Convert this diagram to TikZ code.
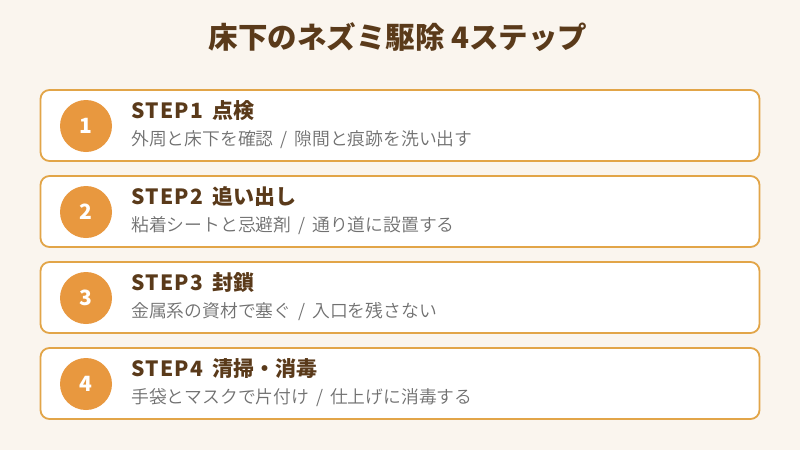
\documentclass[tikz,border=0pt]{standalone}
\usepackage{fontspec}
\setmainfont{Noto Sans CJK JP}
\newfontfamily\lightfont{Noto Sans CJK JP DemiLight}
\usetikzlibrary{positioning}

\definecolor{bgcream}{HTML}{FAF5EE}
\definecolor{boxline}{HTML}{E2A548}
\definecolor{badge}{HTML}{E8983F}
\definecolor{titlebrown}{HTML}{5A3A1A}
\definecolor{subgray}{HTML}{707070}

% wider tracking for the latin part of the step headings
\newcommand{\steplabel}[2]{{\addfontfeatures{LetterSpace=6}#1}\hspace{0.45em}#2}

\begin{document}
\begin{tikzpicture}[x=1pt, y=-1pt,
    stepbox/.style={draw=boxline, line width=1.8pt, fill=white, rounded corners=9pt,
        minimum width=719pt, minimum height=71pt, inner sep=0pt},
    badgecircle/.style={circle, fill=badge, minimum size=52pt, inner sep=0pt,
        text=white, font=\fontsize{21}{21}\selectfont\bfseries},
    stephead/.style={anchor=west, inner sep=0pt, text=titlebrown,
        font=\fontsize{21}{21}\selectfont\bfseries},
    stepnote/.style={anchor=west, inner sep=0pt, text=subgray,
        font=\lightfont\fontsize{17.8}{18}\selectfont}]

    \fill[bgcream] (0,0) rectangle (800,450);
    \useasboundingbox (0,0) rectangle (800,450);

    \node[text=titlebrown, font=\fontsize{29.5}{30}\selectfont\bfseries] (title) at (398,37) {床下のネズミ駆除 4ステップ};

    \node[stepbox] (box1) at (400,125.5) {};
    \node[badgecircle] (num1) at (86,126) {1};
    \node[stephead] (head1) at (131,110.5) {\steplabel{STEP1}{点検}};
    \node[stepnote] (note1) at (131,140) {外周と床下を確認 \,/\, 隙間と痕跡を洗い出す};

    \node[stepbox] (box2) at (400,211.5) {};
    \node[badgecircle] (num2) at (86,212) {2};
    \node[stephead] (head2) at (131,196.5) {\steplabel{STEP2}{追い出し}};
    \node[stepnote] (note2) at (131,226) {粘着シートと忌避剤 \,/\, 通り道に設置する};

    \node[stepbox] (box3) at (400,297.5) {};
    \node[badgecircle] (num3) at (86,298) {3};
    \node[stephead] (head3) at (131,282.5) {\steplabel{STEP3}{封鎖}};
    \node[stepnote] (note3) at (131,312) {金属系の資材で塞ぐ \,/\, 入口を残さない};

    \node[stepbox] (box4) at (400,383.5) {};
    \node[badgecircle] (num4) at (86,384) {4};
    \node[stephead] (head4) at (131,368.5) {\steplabel{STEP4}{清掃・消毒}};
    \node[stepnote] (note4) at (131,398) {手袋とマスクで片付け \,/\, 仕上げに消毒する};

\end{tikzpicture}
\end{document}
